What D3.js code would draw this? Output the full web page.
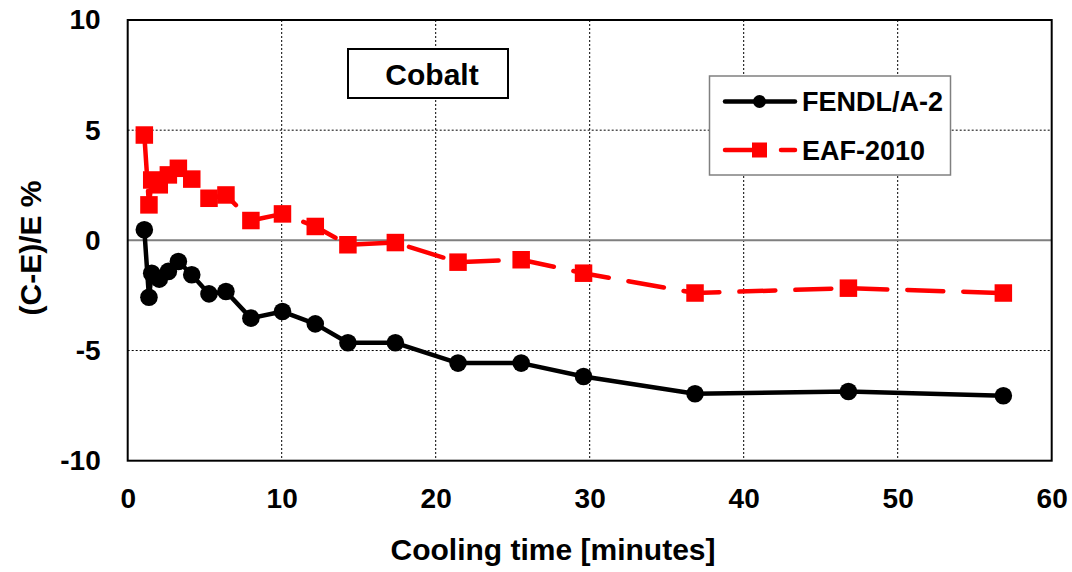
<!DOCTYPE html>
<html>
<head>
<meta charset="utf-8">
<script src="https://cdn.jsdelivr.net/npm/d3@7"></script>
<style>
  body { margin: 0; background: #fff; }
  text { font-family: Arial, "Liberation Sans", sans-serif; font-weight: bold; fill: #000; }
</style>
</head>
<body>
<div id="chart"></div>
<script>
// cooling time (minutes)
var coolingTime = [1.08, 1.38, 1.56, 2.05, 2.64, 3.29, 4.16, 5.28, 6.38, 8.0, 10.05, 12.18, 14.3, 17.38, 21.45, 25.55, 29.6, 36.84, 46.8, 56.86];
// (C-E)/E % per library
var fendl = [0.48, -2.58, -1.49, -1.76, -1.41, -0.96, -1.56, -2.43, -2.32, -3.53, -3.23, -3.79, -4.65, -4.65, -5.57, -5.57, -6.18, -6.96, -6.86, -7.05];
var eaf = [4.78, 1.61, 2.74, 2.52, 2.97, 3.27, 2.78, 1.91, 2.06, 0.9, 1.2, 0.63, -0.2, -0.1, -0.99, -0.88, -1.49, -2.39, -2.17, -2.39];
var seriesNames = ["FENDL/A-2", "EAF-2010"];
var xTicks = [0, 10, 20, 30, 40, 50, 60];
var yTicks = [-10, -5, 0, 5, 10];

var W = 1072, H = 572,
    plotL = 127.7, plotR = 1051.7, plotT = 20, plotB = 460.7;

var svg = d3.select("#chart").append("svg")
  .attr("width", W)
  .attr("height", H);

var x = d3.scaleLinear().domain([0, 60]).range([plotL, plotR]);
var y = d3.scaleLinear().domain([-10, 10]).range([plotB, plotT]);

// dotted grid
svg.selectAll("line.vgrid")
  .data(xTicks.slice(1, -1))
  .enter().append("line")
    .attr("class", "vgrid")
    .attr("x1", function (d) { return x(d); })
    .attr("x2", function (d) { return x(d); })
    .attr("y1", plotT)
    .attr("y2", plotB)
    .style("stroke", "#000")
    .style("stroke-width", 1)
    .style("stroke-dasharray", "2,2");

svg.selectAll("line.hgrid")
  .data([-5, 5])
  .enter().append("line")
    .attr("class", "hgrid")
    .attr("x1", plotL)
    .attr("x2", plotR)
    .attr("y1", function (d) { return y(d); })
    .attr("y2", function (d) { return y(d); })
    .style("stroke", "#000")
    .style("stroke-width", 1)
    .style("stroke-dasharray", "2,2");

// zero line
svg.append("line")
  .attr("x1", plotL)
  .attr("x2", plotR)
  .attr("y1", y(0))
  .attr("y2", y(0))
  .style("stroke", "#7f7f7f")
  .style("stroke-width", 2);

// frame
svg.append("rect")
  .attr("x", plotL)
  .attr("y", plotT)
  .attr("width", plotR - plotL)
  .attr("height", plotB - plotT)
  .style("fill", "none")
  .style("stroke", "#000")
  .style("stroke-width", 2);

// axes (labels only)
var plainFmt = function (d) { return String(d); };
var xAxis = svg.append("g")
  .attr("transform", "translate(0," + plotB + ")")
  .call(d3.axisBottom(x).tickValues(xTicks).tickFormat(plainFmt).tickSize(0).tickPadding(27));
var yAxis = svg.append("g")
  .attr("transform", "translate(" + plotL + ",0)")
  .call(d3.axisLeft(y).tickValues(yTicks).tickFormat(plainFmt).tickSize(0).tickPadding(27));
[xAxis, yAxis].forEach(function (g) {
  g.select(".domain").remove();
  g.selectAll("text")
    .attr("font-family", "Arial, 'Liberation Sans', sans-serif")
    .attr("font-weight", "bold")
    .attr("font-size", "28px")
    .attr("fill", "#000");
});

svg.append("text")
  .attr("x", 553)
  .attr("y", 560)
  .attr("text-anchor", "middle")
  .attr("font-size", "30px")
  .text("Cooling time [minutes]");

svg.append("text")
  .attr("transform", "translate(41,248) rotate(-90)")
  .attr("text-anchor", "middle")
  .attr("font-size", "30px")
  .text("(C-E)/E %");

// series
var pts1 = coolingTime.map(function (t, i) { return [t, fendl[i]]; });
var pts2 = coolingTime.map(function (t, i) { return [t, eaf[i]]; });

var line = d3.line()
  .x(function (d) { return x(d[0]); })
  .y(function (d) { return y(d[1]); });

svg.append("path")
  .datum(pts1)
  .attr("d", line)
  .style("fill", "none")
  .style("stroke", "#000")
  .style("stroke-width", 4.5)
  .style("stroke-linejoin", "round");

svg.selectAll("circle.fendl")
  .data(pts1)
  .enter().append("circle")
    .attr("class", "fendl")
    .attr("cx", function (d) { return x(d[0]); })
    .attr("cy", function (d) { return y(d[1]); })
    .attr("r", 8.8)
    .attr("fill", "#000");

svg.append("path")
  .datum(pts2)
  .attr("d", line)
  .style("fill", "none")
  .style("stroke", "#ff0000")
  .style("stroke-width", 4.5)
  .style("stroke-linecap", "round")
  .style("stroke-linejoin", "round")
  .style("stroke-dasharray", "36,20");

svg.selectAll("rect.eaf")
  .data(pts2)
  .enter().append("rect")
    .attr("class", "eaf")
    .attr("x", function (d) { return x(d[0]) - 8.75; })
    .attr("y", function (d) { return y(d[1]) - 8.75; })
    .attr("width", 17.5)
    .attr("height", 17.5)
    .attr("fill", "#ff0000");

// Cobalt label box
svg.append("rect")
  .attr("x", 348)
  .attr("y", 49)
  .attr("width", 160)
  .attr("height", 49)
  .style("fill", "#fff")
  .style("stroke", "#000")
  .style("stroke-width", 2);
svg.append("text")
  .attr("x", 432)
  .attr("y", 84.5)
  .attr("text-anchor", "middle")
  .attr("font-size", "30px")
  .text("Cobalt");

// legend
var lg = svg.append("g");
lg.append("rect")
  .attr("x", 709.5)
  .attr("y", 76)
  .attr("width", 241)
  .attr("height", 99)
  .style("fill", "#fff")
  .style("stroke", "#808080")
  .style("stroke-width", 1.5);

lg.append("line")
  .attr("x1", 725).attr("x2", 795)
  .attr("y1", 101.5).attr("y2", 101.5)
  .style("stroke", "#000")
  .style("stroke-width", 4.5)
  .style("stroke-linecap", "round");
lg.append("circle")
  .attr("cx", 759.5).attr("cy", 101.5).attr("r", 6.5)
  .attr("fill", "#000");

lg.append("line")
  .attr("x1", 725).attr("x2", 795)
  .attr("y1", 150).attr("y2", 150)
  .style("stroke", "#ff0000")
  .style("stroke-width", 4.5)
  .style("stroke-linecap", "round")
  .style("stroke-dasharray", "36,20");
lg.append("rect")
  .attr("x", 752).attr("y", 142.5).attr("width", 15).attr("height", 15)
  .attr("fill", "#ff0000");

lg.selectAll("text.leg")
  .data(seriesNames)
  .enter().append("text")
    .attr("class", "leg")
    .attr("x", 802)
    .attr("y", function (d, i) { return 111 + i * 48.5; })
    .attr("font-size", "27px")
    .text(function (d) { return d; });
</script>
</body>
</html>
